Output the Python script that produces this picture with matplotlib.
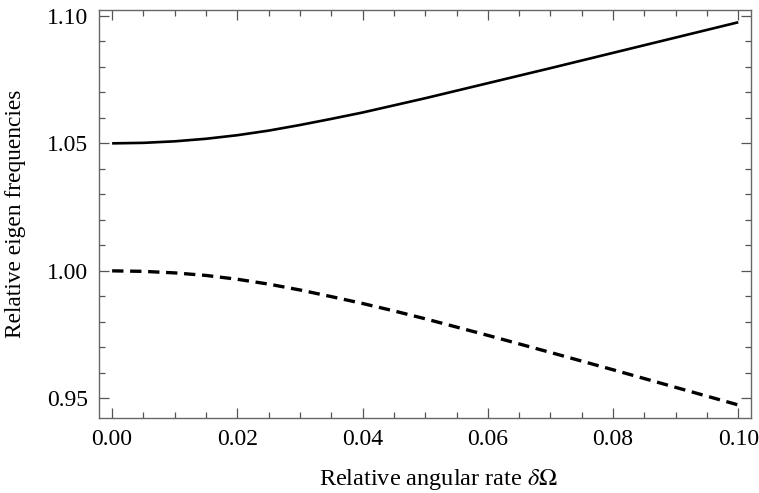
import matplotlib
matplotlib.use("Agg")
import matplotlib.pyplot as plt
from matplotlib.ticker import MultipleLocator

plt.rcParams['font.family'] = ['Liberation Serif', 'DejaVu Serif']
plt.rcParams['mathtext.fontset'] = 'stix'

delta = [0.0, 0.005, 0.01, 0.015, 0.02, 0.025, 0.03, 0.035, 0.04, 0.045, 0.05,
         0.06, 0.07, 0.08, 0.09, 0.10]
upper = [1.0500, 1.0502, 1.0508, 1.0518, 1.0532, 1.0550, 1.0572, 1.0596, 1.0621, 1.0649,
         1.0677, 1.0736, 1.0795, 1.0855, 1.0915, 1.0975]
lower = [1.0000, 0.9998, 0.9992, 0.9982, 0.9967, 0.9948, 0.9925, 0.9899, 0.9872, 0.9843,
         0.9812, 0.9747, 0.9680, 0.9612, 0.9543, 0.9474]

xticks = [0.00, 0.02, 0.04, 0.06, 0.08, 0.10]
yticks = [0.95, 1.00, 1.05, 1.10]
xlabel = r"Relative angular rate $\delta\Omega$"
ylabel = "Relative eigen frequencies"

fig = plt.figure(figsize=(7.59, 4.93), dpi=100)
ax = fig.add_axes([0.1304, 0.1527, 0.8591, 0.8270])

ax.plot(delta, upper, color='black', lw=1.9, solid_capstyle='butt', solid_joinstyle='round')
ax.plot(delta, lower, color='black', lw=2.4, dashes=(3.4, 2.0), dash_capstyle='butt')

ax.set_xlim(-0.0021, 0.10203)
ax.set_ylim(0.9424, 1.1023)
ax.set_xticks(xticks)
ax.set_xticklabels([f"{v:.2f}" for v in xticks])
ax.set_yticks(yticks)
ax.set_yticklabels([f"{v:.2f}" for v in yticks])
ax.xaxis.set_minor_locator(MultipleLocator(0.005))
ax.yaxis.set_minor_locator(MultipleLocator(0.01))

ax.tick_params(which='both', direction='in', top=True, right=True,
               color='#555555', width=0.9)
ax.tick_params(which='major', length=7.5, labelsize=17)
ax.tick_params(which='minor', length=4)
ax.tick_params(axis='x', which='major', pad=8)
ax.tick_params(axis='y', which='major', pad=8)
for s in ax.spines.values():
    s.set_color('#666666')
    s.set_linewidth(1.0)

ax.set_xlabel(xlabel, fontsize=17.5)
ax.set_ylabel(ylabel, fontsize=16.8)
ax.xaxis.label.set_verticalalignment('baseline')
ax.xaxis.set_label_coords((438 - 99) / 652, -(485 - 417.7) / 407.7)
ax.yaxis.set_label_coords(-(99 - 16) / 652, 0.5)
ax.yaxis.label.set_verticalalignment('center')

fig.savefig("out.png", dpi=100)
